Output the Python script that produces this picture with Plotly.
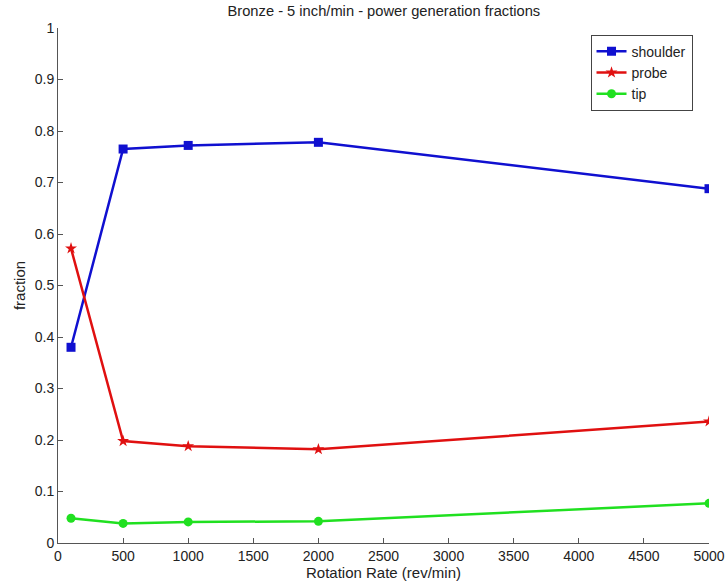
import plotly.graph_objects as go

rpm = [100, 500, 1000, 2000, 5000]
shoulder = [0.38, 0.765, 0.772, 0.778, 0.688]
probe = [0.572, 0.198, 0.188, 0.182, 0.236]
tip = [0.048, 0.038, 0.041, 0.042, 0.077]

series = [
    ("shoulder", shoulder, "#1010d0", "square"),
    ("probe", probe, "#e01010", "star"),
    ("tip", tip, "#20e020", "circle"),
]

fig = go.Figure()
for name, vals, col, sym in series:
    fig.add_trace(go.Scatter(
        x=rpm, y=vals, name=name, mode="lines+markers",
        line=dict(color=col, width=2.5),
        marker=dict(symbol=sym, size=9, color=col),
    ))

fig.update_layout(
    width=727, height=587,
    margin=dict(l=58, r=18, t=28, b=44, autoexpand=False),
    paper_bgcolor="white", plot_bgcolor="white",
    font=dict(family="Liberation Sans, Arial", size=14, color="#222"),
    title=dict(text="Bronze - 5 inch/min - power generation fractions",
               x=0.528, xanchor="center", y=0.99, yanchor="top",
               font=dict(size=14.7)),
    xaxis=dict(range=[0, 5000], tickvals=list(range(0, 5001, 500)),
               ticks="inside", ticklen=5, tickcolor="#555",
               tickfont=dict(size=14),
               showline=True, linecolor="#555", linewidth=1,
               showgrid=False, zeroline=False, automargin=False,
               title=dict(text="Rotation Rate (rev/min)", standoff=0, font=dict(size=15))),
    yaxis=dict(range=[0, 1], tickvals=[i / 10 for i in range(11)],
               ticktext=["0", "0.1", "0.2", "0.3", "0.4", "0.5", "0.6", "0.7", "0.8", "0.9", "1"],
               ticks="inside", ticklen=5, tickcolor="#555",
               tickfont=dict(size=14),
               showline=True, linecolor="#555", linewidth=1,
               showgrid=False, zeroline=False, automargin=False,
               title=dict(text="fraction", standoff=5, font=dict(size=15))),
    legend=dict(x=0.818, y=0.987, xanchor="left", yanchor="top",
                bordercolor="#444", borderwidth=1, bgcolor="white",
                font=dict(size=14), tracegroupgap=0, itemwidth=30),
    showlegend=True,
)

fig.write_html("out.html")
